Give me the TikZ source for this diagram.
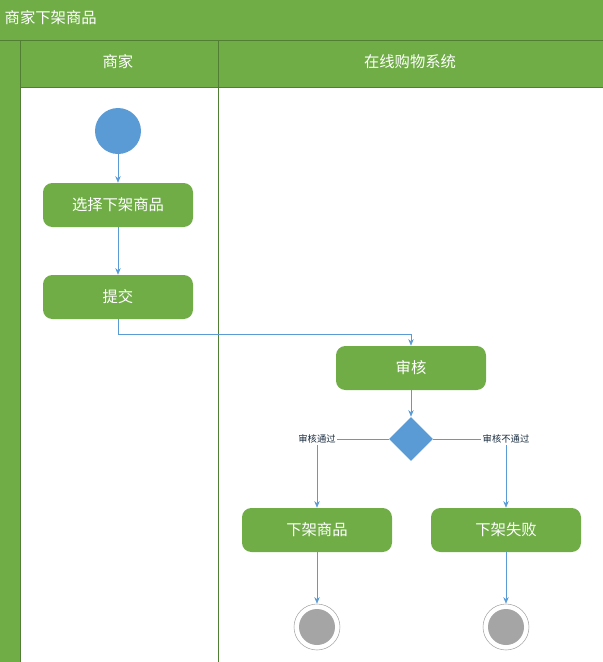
\documentclass[tikz,border=0pt]{standalone}
\usepackage{fontspec}
\setmainfont{Noto Sans CJK SC}
\usetikzlibrary{shapes.geometric,arrows.meta}
\definecolor{lanegreen}{HTML}{70AD47}
\definecolor{darkgreen}{HTML}{507E32}
\definecolor{flowblue}{HTML}{5B9BD5}
\definecolor{endgray}{HTML}{A5A5A5}
\tikzset{
  act/.style={draw=none,fill=lanegreen,rounded corners=7pt,minimum width=112.5pt,minimum height=33pt,text=white,font=\fontsize{11.5}{13}\selectfont},
  flow/.style={draw=flowblue,-{Stealth[length=5pt,width=4pt]}},
  guard/.style={fill=white,inner sep=1pt,text=black!70!flowblue,font=\fontsize{7}{8}\selectfont}
}
\begin{document}
\begin{tikzpicture}[x=0.75pt,y=-0.75pt]
        \useasboundingbox (0,0) rectangle (603,662);
        % swimlanes
        \fill[lanegreen] (0,0) rectangle (603,87);
        \fill[lanegreen] (0,0) rectangle (20,662);
        \draw[darkgreen] (0,40) -- (603,40);
        \draw[darkgreen] (20,87) -- (603,87);
        \draw[darkgreen] (20,40) -- (20,662);
        \draw[darkgreen] (218,40) -- (218,662);
        \node[anchor=west,text=white,font=\fontsize{11.5}{13}\selectfont] (title) at (0,18) {商家下架商品};
        \node[text=white,font=\fontsize{11.5}{13}\selectfont] (laneA) at (118,62) {商家};
        \node[text=white,font=\fontsize{11.5}{13}\selectfont] (laneB) at (410,62) {在线购物系统};

        % place nodes
        \node[circle,fill=flowblue,minimum size=34.5pt,inner sep=0] (start) at (118,131) {};
        \node[act] (choose) at (118,205) {选择下架商品};
        \node[act] (submit) at (118,297) {提交};
        \node[act] (review) at (411,368) {审核};
        \node[diamond,fill=flowblue,minimum size=33pt,inner sep=0] (check) at (411,439) {};
        \node[act] (removed) at (317,530) {下架商品};
        \node[act] (failed) at (506,530) {下架失败};
        \node[circle,draw=endgray,fill=white,minimum size=34.5pt,inner sep=0] (endA) at (317,627) {};
        \node[circle,fill=endgray,minimum size=27pt,inner sep=0] at (endA) {};
        \node[circle,draw=endgray,fill=white,minimum size=34.5pt,inner sep=0] (endB) at (506,627) {};
        \node[circle,fill=endgray,minimum size=27pt,inner sep=0] at (endB) {};

        % draw edges
        \draw[flow] (start) -- (choose);
        \draw[flow] (choose) -- (submit);
        \draw[flow] (submit.south) |- (411,334) -- (review.north);
        \draw[flow] (review) -- (check);
        \draw[flow] (check.west) -| node[guard,pos=0.5] {审核通过} (removed.north);
        \draw[flow] (check.east) -| node[guard,pos=0.5] {审核不通过} (failed.north);
        \draw[flow] (removed) -- (endA);
        \draw[flow] (failed) -- (endB);
\end{tikzpicture}
\end{document}
